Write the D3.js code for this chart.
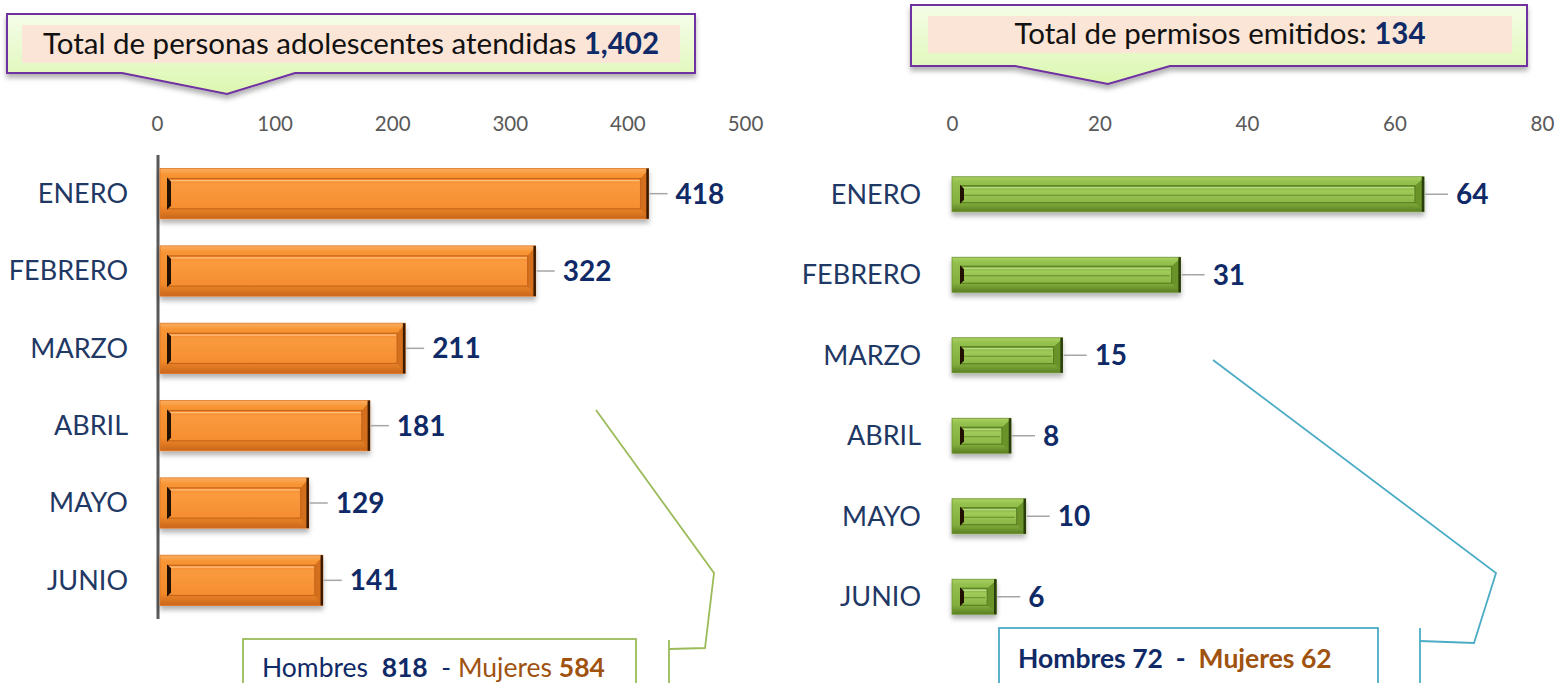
<!DOCTYPE html>
<html>
<head>
<meta charset="utf-8">
<script src="https://cdn.jsdelivr.net/npm/d3@7"></script>
<style>
  body { margin: 0; background: #fff; }
  svg { display: block; font-family: Lato, "Open Sans", sans-serif; }
</style>
</head>
<body>
<svg id="chart" width="1558" height="683"></svg>
<script>
// data
var months = ["ENERO", "FEBRERO", "MARZO", "ABRIL", "MAYO", "JUNIO"];
var atendidas = [418, 322, 211, 181, 129, 141];
var permisos = [64, 31, 15, 8, 10, 6];
var ticksLeft = [0, 100, 200, 300, 400, 500];
var ticksRight = [0, 20, 40, 60, 80];

var svg = d3.select("#chart");
var defs = svg.append("defs");

// soft shadow under the bars and callouts
var f = defs.append("filter").attr("id", "shadow").attr("x", "-10%").attr("y", "-30%").attr("width", "120%").attr("height", "180%");
f.append("feDropShadow").attr("dx", 0).attr("dy", 4).attr("stdDeviation", 2.5).attr("flood-color", "#000").attr("flood-opacity", 0.3);

function grad(id, stops) {
  var g = defs.append("linearGradient").attr("id", id).attr("x1", 0).attr("y1", 0).attr("x2", 0).attr("y2", 1);
  stops.forEach(function(s){ g.append("stop").attr("offset", s[0]).attr("stop-color", s[1]); });
}
grad("orOuter", [["0", "#fbae62"], ["0.12", "#f79534"], ["0.75", "#f28a2a"], ["1", "#c9661a"]]);
grad("orInner", [["0", "#f68a2c"], ["0.2", "#fa9a3f"], ["1", "#f58d30"]]);
grad("grOuter", [["0", "#a9d063"], ["0.15", "#94c14d"], ["0.75", "#82ae3c"], ["1", "#5a7e23"]]);
grad("grInner", [["0", "#7aa336"], ["0.3", "#9fcb59"], ["1", "#89b644"]]);
grad("callout", [["0", "#f4fde8"], ["1", "#dcf7b0"]]);

// ---------- callouts at the top ----------
function callout(box, inner, pointer, label, total) {
  var g = svg.append("g");
  var pts = [[box.x0, box.y0], [box.x1, box.y0], [box.x1, box.y1], [pointer[2], box.y1],
             [pointer[1], pointer[3]], [pointer[0], box.y1], [box.x0, box.y1]];
  g.append("path").attr("d", d3.line()(pts) + "Z")
    .attr("fill", "url(#callout)").attr("stroke", "#7030a0").attr("stroke-width", 2)
    .attr("filter", "url(#shadow)");
  g.append("rect").attr("x", inner.x0).attr("y", inner.y0)
    .attr("width", inner.x1 - inner.x0).attr("height", inner.y1 - inner.y0).attr("fill", "#fbe5d6");
  var t = g.append("text").attr("x", (inner.x0 + inner.x1) / 2).attr("y", inner.y1 - 9)
    .attr("text-anchor", "middle").attr("font-size", 29.5).attr("fill", "#111");
  t.append("tspan").text(label);
  t.append("tspan").attr("font-weight", "bold").attr("fill", "#0f2a66").text(total);
}
callout({x0: 7, y0: 14, x1: 695, y1: 73}, {x0: 22, y0: 25, x1: 680, y1: 63},
        [122, 227, 295, 94], "Total de personas adolescentes atendidas ", "1,402");
callout({x0: 911, y0: 5, x1: 1527, y1: 66}, {x0: 928, y0: 16, x1: 1512, y1: 53},
        [1015, 1108, 1170, 84], "Total de permisos emitidos: ", "134");

// ---------- bar panels ----------
function panel(opt) {
  var x = d3.scaleLinear().domain(opt.domain).range(opt.xr);
  var y = d3.scaleBand().domain(months).range(opt.yr)
    .paddingInner(opt.pad).paddingOuter(opt.pad / 2);
  var g = svg.append("g");

  var ax = g.append("g").attr("transform", "translate(0," + opt.axisY + ")")
    .call(d3.axisTop(x).tickValues(opt.ticks).tickSize(0).tickPadding(0).tickFormat(d3.format("d")));
  ax.select(".domain").remove();
  ax.selectAll("text").attr("font-size", 20.5).attr("fill", "#595959").attr("font-family", "Lato, sans-serif");

  if (opt.axisLine) {
    g.append("line").attr("x1", x(0) + 1).attr("x2", x(0) + 1)
      .attr("y1", opt.yr[0]).attr("y2", opt.yr[1])
      .attr("stroke", "#595959").attr("stroke-width", 3);
  }

  g.selectAll(".cat").data(months).enter().append("text")
    .attr("class", "cat")
    .attr("x", opt.catX).attr("y", function(d){ return y(d) + y.bandwidth() / 2; })
    .attr("dy", "0.35em").attr("text-anchor", "end")
    .attr("font-size", 27).attr("fill", "#1f3864").text(function(d){ return d; });

  var data = opt.values.map(function(v, i){ return {m: months[i], v: v}; });
  var bars = g.selectAll(".bar").data(data).enter().append("g").attr("class", "bar");
  var c = opt.colors;

  bars.each(function(d) {
    var b = d3.select(this);
    var x0 = x(0) + opt.shift, x1 = x(d.v), y0 = y(d.m), h = y.bandwidth();
    var w = x1 - x0, ix = opt.inset[0], iy = opt.inset[1];
    b.append("rect").attr("x", x0).attr("y", y0).attr("width", w).attr("height", h)
      .attr("fill", c.outer).attr("stroke", c.edge).attr("stroke-width", 0.8)
      .attr("filter", "url(#shadow)");
    // right bevel, darker
    b.append("path").attr("d", d3.line()([[x1 - ix, y0 + iy], [x1, y0 + 1], [x1, y0 + h - 1], [x1 - ix, y0 + h - iy]]) + "Z")
      .attr("fill", c.bevel);
    b.append("rect").attr("x", x0 + ix).attr("y", y0 + iy).attr("width", Math.max(w - 2 * ix, 1))
      .attr("height", h - 2 * iy).attr("fill", c.inner).attr("stroke", c.line).attr("stroke-width", 1.2);
    b.append("line").attr("x1", x0 + ix + 2).attr("x2", x1 - ix - 1)
      .attr("y1", y0 + iy + 2).attr("y2", y0 + iy + 2).attr("stroke", c.light).attr("stroke-width", 1.2);
    if (opt.mid) {
      b.append("line").attr("x1", x0 + ix + 3).attr("x2", x1 - ix - 2)
        .attr("y1", y0 + h / 2 + 1).attr("y2", y0 + h / 2 + 1).attr("stroke", c.line).attr("stroke-width", 0.8);
    }
    // dark notch at the left of the inner panel
    b.append("path").attr("d", d3.line()([[x0 + ix - 1, y0 + iy - 1], [x0 + ix + 3, y0 + iy + 3],
        [x0 + ix + 3, y0 + h - iy - 3], [x0 + ix - 1, y0 + h - iy + 1]]) + "Z")
      .attr("fill", "#221000");
    b.append("line").attr("x1", x1 - 1).attr("x2", x1 - 1).attr("y1", y0).attr("y2", y0 + h)
      .attr("stroke", c.dark).attr("stroke-width", 2.5);
    // leader line + value
    var cy = y0 + h / 2;
    b.append("line").attr("x1", x1 + 1).attr("x2", x1 + opt.lead).attr("y1", cy).attr("y2", cy)
      .attr("stroke", "#a6a6a6").attr("stroke-width", 1.5);
    b.append("text").attr("x", x1 + opt.lead + 8).attr("y", cy).attr("dy", "0.36em")
      .attr("font-size", 28).attr("font-weight", "bold").attr("fill", "#0f2a66").text(d.v);
  });
}

panel({
  domain: [0, 500], xr: [157, 745], yr: [155, 619], pad: 0.35, axisY: 131,
  ticks: ticksLeft, values: atendidas, catX: 128, axisLine: true, shift: 3,
  inset: [8, 10], lead: 19, mid: false,
  colors: {outer: "url(#orOuter)", inner: "url(#orInner)", edge: "#e0761f", bevel: "#d46f1d",
           line: "#c6651b", light: "#ffc07f", dark: "#3b1a02"}
});
panel({
  domain: [0, 80], xr: [952, 1542], yr: [154, 637], pad: 0.565, axisY: 131,
  ticks: ticksRight, values: permisos, catX: 921, axisLine: false, shift: 0,
  inset: [9, 9], lead: 24, mid: true,
  colors: {outer: "url(#grOuter)", inner: "url(#grInner)", edge: "#6d9330", bevel: "#6a9429",
           line: "#5a8022", light: "#c4e595", dark: "#2b3d0c"}
});

// ---------- bottom notes with brackets ----------
function note(box, color, bracket, vx, vy, size, parts) {
  var g = svg.append("g");
  g.append("rect").attr("x", box[0]).attr("y", box[1]).attr("width", box[2] - box[0]).attr("height", 80)
    .attr("fill", "none").attr("stroke", color).attr("stroke-width", 1.8);
  g.append("path").attr("d", d3.line()(bracket)).attr("fill", "none").attr("stroke", color).attr("stroke-width", 1.8);
  g.append("line").attr("x1", vx).attr("x2", vx).attr("y1", vy).attr("y2", 690)
    .attr("stroke", color).attr("stroke-width", 1.8);
  var t = g.append("text").attr("x", box[3]).attr("y", box[4]).attr("font-size", size);
  parts.forEach(function(p){
    t.append("tspan").attr("fill", p[1]).attr("font-weight", p[2] ? "bold" : "normal").text(p[0]);
  });
}
note([243, 639, 636, 262, 677], "#9bbb59", [[596, 410], [714, 573], [705, 648], [669, 649]], 669, 640, 26.5, [
  ["Hombres\u00a0 ", "#0f2a66", false], ["818", "#0f2a66", true], ["\u00a0 - ", "#0f2a66", false],
  ["Mujeres ", "#a0520f", false], ["584", "#a0520f", true]
]);
note([999, 628, 1378, 1018, 668], "#4bacc6", [[1213, 360], [1496, 573], [1474, 643], [1420, 641]], 1420, 628, 26.5, [
  ["Hombres 72\u00a0 -\u00a0 ", "#0f2a66", true], ["Mujeres 62", "#a0520f", true]
]);
</script>
</body>
</html>
